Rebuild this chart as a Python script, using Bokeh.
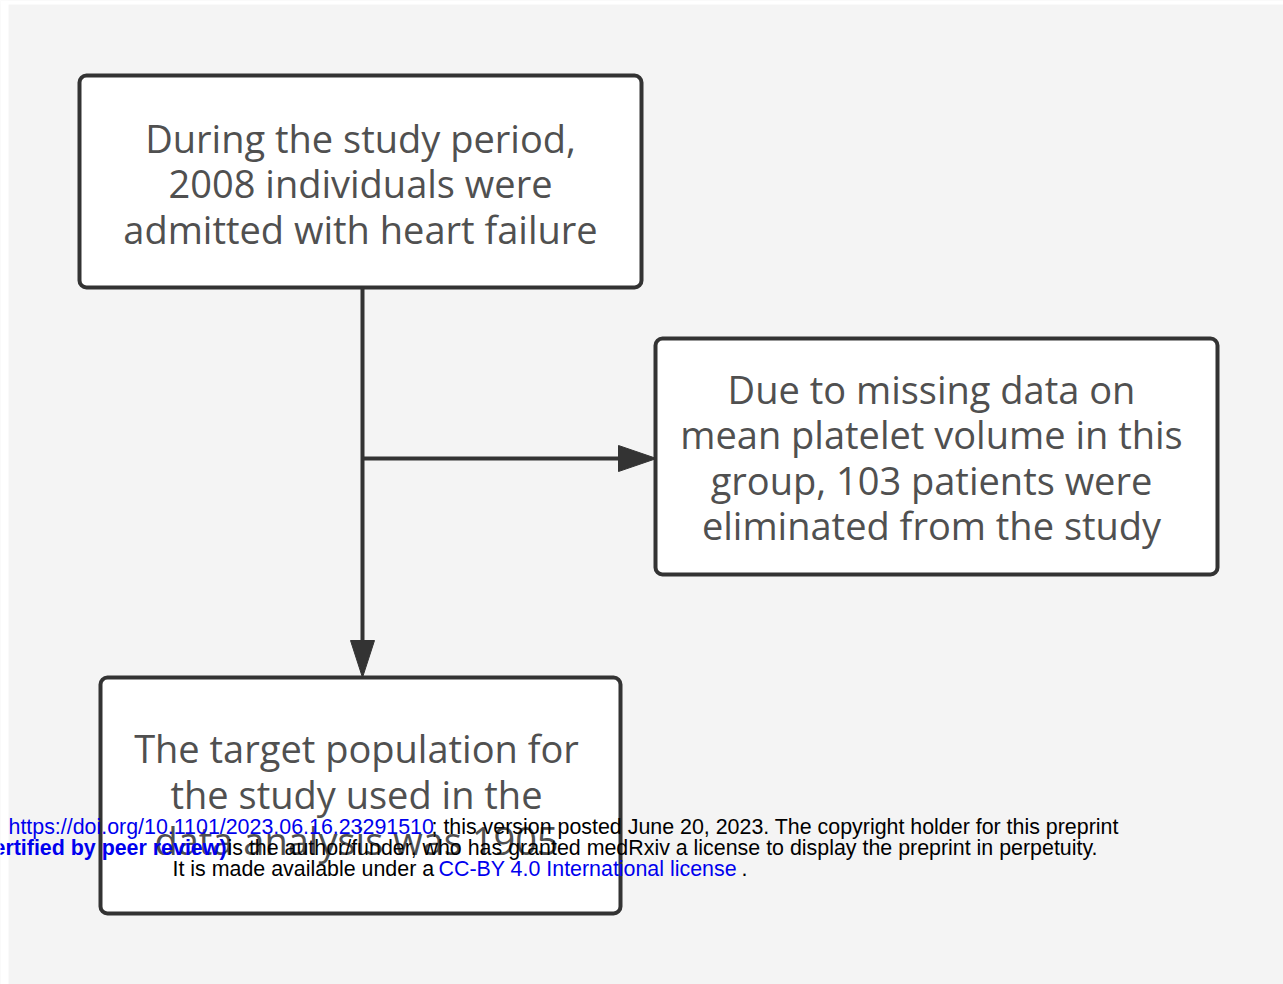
from bokeh.plotting import figure
from bokeh.models import Range1d
from bokeh.core.properties import value
from bokeh.embed import file_html
from bokeh.resources import INLINE

# ---- content ----
box1_lines = ["During the study period,", "2008 individuals were", "admitted with heart failure"]
box2_lines = ["Due to missing data on", "mean platelet volume in this", "group, 103 patients were", "eliminated from the study"]
box3_lines = ["The target population for", "the study used in the", "data analysis was 1905"]

wm1_link = "https://doi.org/10.1101/2023.06.16.23291510"
wm1_rest = "; this version posted June 20, 2023. The copyright holder for this preprint"
wm2_bold = "(which was not certified by peer review)"
wm2_rest = " is the author/funder, who has granted medRxiv a license to display the preprint in perpetuity."
wm3_pre = "It is made available under a "
wm3_link = "CC-BY 4.0 International license"
wm3_post = "."

W, H = 1283, 984
p = figure(width=W, height=H, output_backend="svg", toolbar_location=None,
           x_range=Range1d(0, W), y_range=Range1d(H, 0),
           min_border=0, outline_line_color=None)
p.axis.visible = False
p.grid.visible = False
p.background_fill_color = "#f4f4f4"
p.border_fill_color = "#f4f4f4"

# white page strip around the pasted figure image
p.quad(left=[0, 0], right=[8, W], top=[0, 0], bottom=[H, 4],
       fill_color="white", line_color=None)

edge = "#333333"
txt = "#505050"
font = value("Open Sans")

# boxes
boxes = [(79, 641, 75, 287), (655, 1217, 338, 574), (100, 620, 677, 913)]
for (l, r, t, b) in boxes:
    p.quad(left=l, right=r, top=t, bottom=b, fill_color="white",
           line_color=edge, line_width=4, border_radius=7)

# connectors
p.segment(x0=[362, 362], y0=[287, 458], x1=[362, 622], y1=[645, 458],
          line_color=edge, line_width=4)
p.patches(xs=[[350, 374, 362], [618, 618, 656]],
          ys=[[640, 640, 677], [445, 471, 458]],
          fill_color=edge, line_color=edge, line_width=1)

def block(lines, cx, y0, dy):
    p.text(x=[cx] * len(lines), y=[y0 + i * dy for i in range(len(lines))], text=lines,
           text_font=font, text_font_size="38px", text_color=txt,
           text_align="center", text_baseline="middle")

block(box1_lines, 360, 137, 45.5)
block(box2_lines, 931, 388, 45.5)
block(box3_lines, 356, 747, 46)

# watermark
fs = "21.4px"
arial = value("Liberation Sans")
def wt(x, y, s, color, align="left", style="normal"):
    p.text(x=[x], y=[y], text=[s], text_font=arial, text_font_size=fs,
           text_color=color, text_align=align, text_baseline="middle",
           text_font_style=style)

wt(8, 826, wm1_link, "#0000ee")
wt(431, 826, wm1_rest, "#000000")
wt(226, 847, wm2_bold, "#0000ee", align="right", style="bold")
wt(227, 847, wm2_rest, "#000000")
wt(172, 868, wm3_pre, "#000000")
wt(438, 868, wm3_link, "#0000ee")
wt(741, 868, wm3_post, "#000000")

open("out.html", "w").write(file_html(p, INLINE))
